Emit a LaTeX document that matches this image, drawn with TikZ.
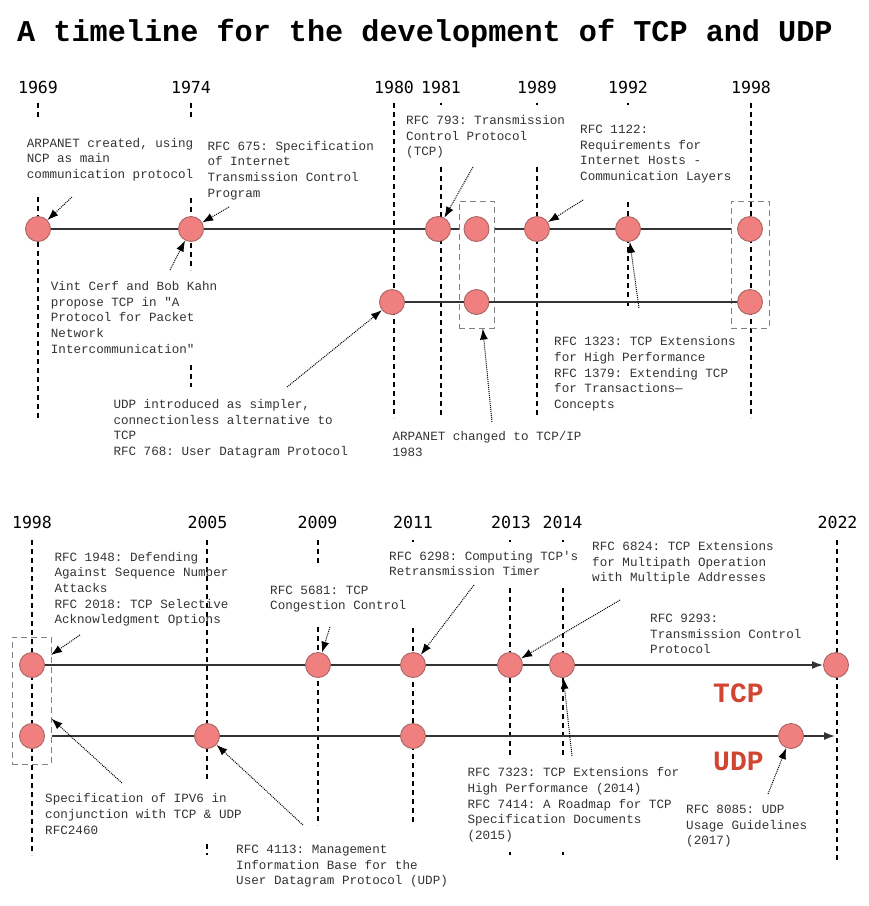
\documentclass[tikz,border=0pt]{standalone}
\usepackage{fontspec}
\setmonofont{Liberation Mono}
\newfontfamily\yearfont{DejaVu Sans Mono}
\usetikzlibrary{arrows.meta}
\definecolor{dotred}{RGB}{240,128,128}
\definecolor{dotrim}{RGB}{170,100,100}
\definecolor{labred}{RGB}{208,70,50}
\definecolor{ink}{RGB}{51,51,51}

\begin{document}
\begin{tikzpicture}
	 [x=1pt,y=-1pt,every node/.style={inner sep=0pt},
	  ev/.style={circle,fill=dotred,draw=dotrim,line width=0.9pt,minimum size=25pt},
	  note/.style={align=left,anchor=base west,text=ink,font=\ttfamily\fontsize{12.6}{15.7}\selectfont},
	  yr/.style={anchor=base,font=\yearfont\fontsize{16.6}{20}\selectfont},
	  guide/.style={line width=1.2pt,dash pattern=on 5pt off 4pt},
	  gbox/.style={draw=gray,line width=1pt,dash pattern=on 6pt off 4pt,minimum height=127pt},
	  tline/.style={line width=1.5pt,draw=ink},
	  ptr/.style={densely dotted,line width=1pt,-{Latex[length=11pt,width=8pt]}},
	  proto/.style={anchor=base west,text=labred,font=\ttfamily\bfseries\fontsize{28}{30}\selectfont}]
	\useasboundingbox (0,0) rectangle (869,906);

	\node[anchor=base west,font=\ttfamily\bfseries\fontsize{30.2}{34}\selectfont] (title) at (17,41)
	  {A timeline for the development of TCP and UDP};

%	years and guides, upper part
	\foreach \yr/\x in {1969/38,1974/191,1980/394,1981/441,1989/537,1992/628,1998/751}
	  \node[yr] (ya\yr) at (\x,93) {\yr};
	\foreach \x/\a/\b in {38/103/117,38/197/418,191/103/117,191/198/270,191/365/387,
	    394/103/418,441/103/104.5,441/167/418,537/103/104.5,537/167/418,
	    628/103/104.5,628/202/308,751/103/418}
	  \draw[guide] (\x,\a) -- (\x,\b);

%	years and guides, lower part
	\foreach \yr/\x in {1998/32,2005/207.5,2009/317.5,2011/413,2013/511,2014/562.5,2022/837.5}
	  \node[yr] (yb\yr) at (\x,528.3) {\yr};
	\foreach \x/\a/\b in {32/540/855,207/540/782,207/844/855,318/540/563,318/627/825,
	    413/540/541.5,413/628/825,510/540/541.5,510/588/755,510/852/855,
	    563/540/541.5,563/588/755,563/852/855,837/540/861}
	  \draw[guide] (\x,\a) -- (\x,\b);

	  \node[ev] (t69) at (38,229) {};
	  \node[ev] (t74) at (191,229) {};
	  \node[ev] (t81) at (438,229) {};
	  \node[ev] (t83) at (476.5,229) {};
	  \node[ev] (t89) at (537,229) {};
	  \node[ev] (t92) at (628,229) {};
	  \node[ev] (t98) at (750,229) {};
	  \node[ev] (u80) at (392,302) {};
	  \node[ev] (u83) at (476.5,302) {};
	  \node[ev] (u98) at (750,302) {};

	  \node[gbox,minimum width=35pt] (b83) at (476.5,264.5) {};
	  \node[gbox,minimum width=38pt] (b98) at (750,264.5) {};

	\draw[tline] (t69) -- (t74) -- (t81) -- (t81 -| b83.west);
	\draw[tline] (t83 -| b83.east) -- (t89) -- (t92) -- (t98 -| b98.west);
	\draw[tline] (u80) -- (u83) -- (u98);

	  \node[ev] (T98) at (32,665) {};
	  \node[ev] (T09) at (318,665) {};
	  \node[ev] (T11) at (413,665) {};
	  \node[ev] (T13) at (510,665) {};
	  \node[ev] (T14) at (562,665) {};
	  \node[ev] (T22) at (836,665) {};
	  \node[ev] (U98) at (32,736) {};
	  \node[ev] (U05) at (207,736) {};
	  \node[ev] (U11) at (413,736) {};
	  \node[ev] (U17) at (791,736) {};
	  \coordinate (uend) at (835,736);

	  \node[gbox,minimum width=39pt] (bb98) at (31.5,700.5) {};

	\draw[tline] (T98) -- (T09) -- (T11) -- (T13) -- (T14);
	\draw[tline,-{Latex[length=11pt,width=8pt]}] (T14) -- (T22);
	\draw[tline] (U98 -| bb98.east) -- (U05) -- (U11) -- (U17);
	\draw[tline,-{Latex[length=11pt,width=8pt]}] (U17) -- (uend);

	\node[proto] (tcp) at (713,702) {TCP};
	\node[proto] (udp) at (713,770) {UDP};

%	notes, upper part (placed by the baseline of their last line)
	\node[note] (arpa) at (26.7,178.4) {ARPANET created, using\\NCP as main\\communication protocol};
	\node[note] (rfc675) at (207.3,197.1) {RFC 675: Specification\\of Internet\\Transmission Control\\Program};
	\node[note] (cerf) at (50.7,353.2) {Vint Cerf and Bob Kahn\\propose TCP in "A\\Protocol for Packet\\Network\\Intercommunication"};
	\node[note] (udp768) at (113.3,455.5) {UDP introduced as simpler,\\connectionless alternative to\\TCP\\RFC 768: User Datagram Protocol};
	\node[note] (tcpip) at (392.3,456.4) {ARPANET changed to TCP/IP\\1983};
	\node[note] (rfc793) at (406,155.8) {RFC 793: Transmission\\Control Protocol\\(TCP)};
	\node[note] (rfc1122) at (580,180.5) {RFC 1122:\\Requirements for\\Internet Hosts -\\Communication Layers};
	\node[note] (rfc1323) at (554,408.5) {RFC 1323: TCP Extensions\\for High Performance\\RFC 1379: Extending TCP\\for Transactions—\\Concepts};

%	notes, lower part
	\node[note] (rfc1948) at (54.3,623.8) {RFC 1948: Defending\\Against Sequence Number\\Attacks\\RFC 2018: TCP Selective\\Acknowledgment Options};
	\node[note] (rfc5681) at (270,609.7) {RFC 5681: TCP\\Congestion Control};
	\node[note] (rfc6298) at (389,575.7) {RFC 6298: Computing TCP's\\Retransmission Timer};
	\node[note] (rfc6824) at (592,581.8) {RFC 6824: TCP Extensions\\for Multipath Operation\\with Multiple Addresses};
	\node[note] (rfc9293) at (650,653.8) {RFC 9293:\\Transmission Control\\Protocol};
	\node[note] (ipv6) at (45,834.1) {Specification of IPV6 in\\conjunction with TCP \& UDP\\RFC2460};
	\node[note] (rfc4113) at (236,884.8) {RFC 4113: Management\\Information Base for the\\User Datagram Protocol (UDP)};
	\node[note] (rfc7323) at (467.3,839.5) {RFC 7323: TCP Extensions for\\High Performance (2014)\\RFC 7414: A Roadmap for TCP\\Specification Documents\\(2015)};
	\node[note] (rfc8085) at (686,844.8) {RFC 8085: UDP\\Usage Guidelines\\(2017)};

%	pointer tails
	  \coordinate (p1) at (72,197);
	  \coordinate (p2) at (229,207);
	  \coordinate (p3) at (170,270);
	  \coordinate (p4) at (287,387);
	  \coordinate (p5) at (473,167);
	  \coordinate (p6) at (583,200);
	  \coordinate (p7) at (639,308);
	  \coordinate (p8) at (492,422);
	  \coordinate (p9) at (80,635);
	  \coordinate (p10) at (330,627);
	  \coordinate (p11) at (474,585);
	  \coordinate (p12) at (620,600);
	  \coordinate (p13) at (572,756);
	  \coordinate (p14) at (122,783);
	  \coordinate (p15) at (303,825);
	  \coordinate (p16) at (768,794);
	  \coordinate (k98) at (51,655);

	\foreach \from/\to in {p1/t69,p2/t74,p3/t74,p4/u80,p5/t81,p6/t89,p7/t92,p8/b83,
	    p9/k98,p10/T09,p11/T11,p12/T13,p13/T14,p14/bb98,p15/U05,p16/U17}
    \draw[ptr] (\from) -- (\to);

\end{tikzpicture}
\end{document}
